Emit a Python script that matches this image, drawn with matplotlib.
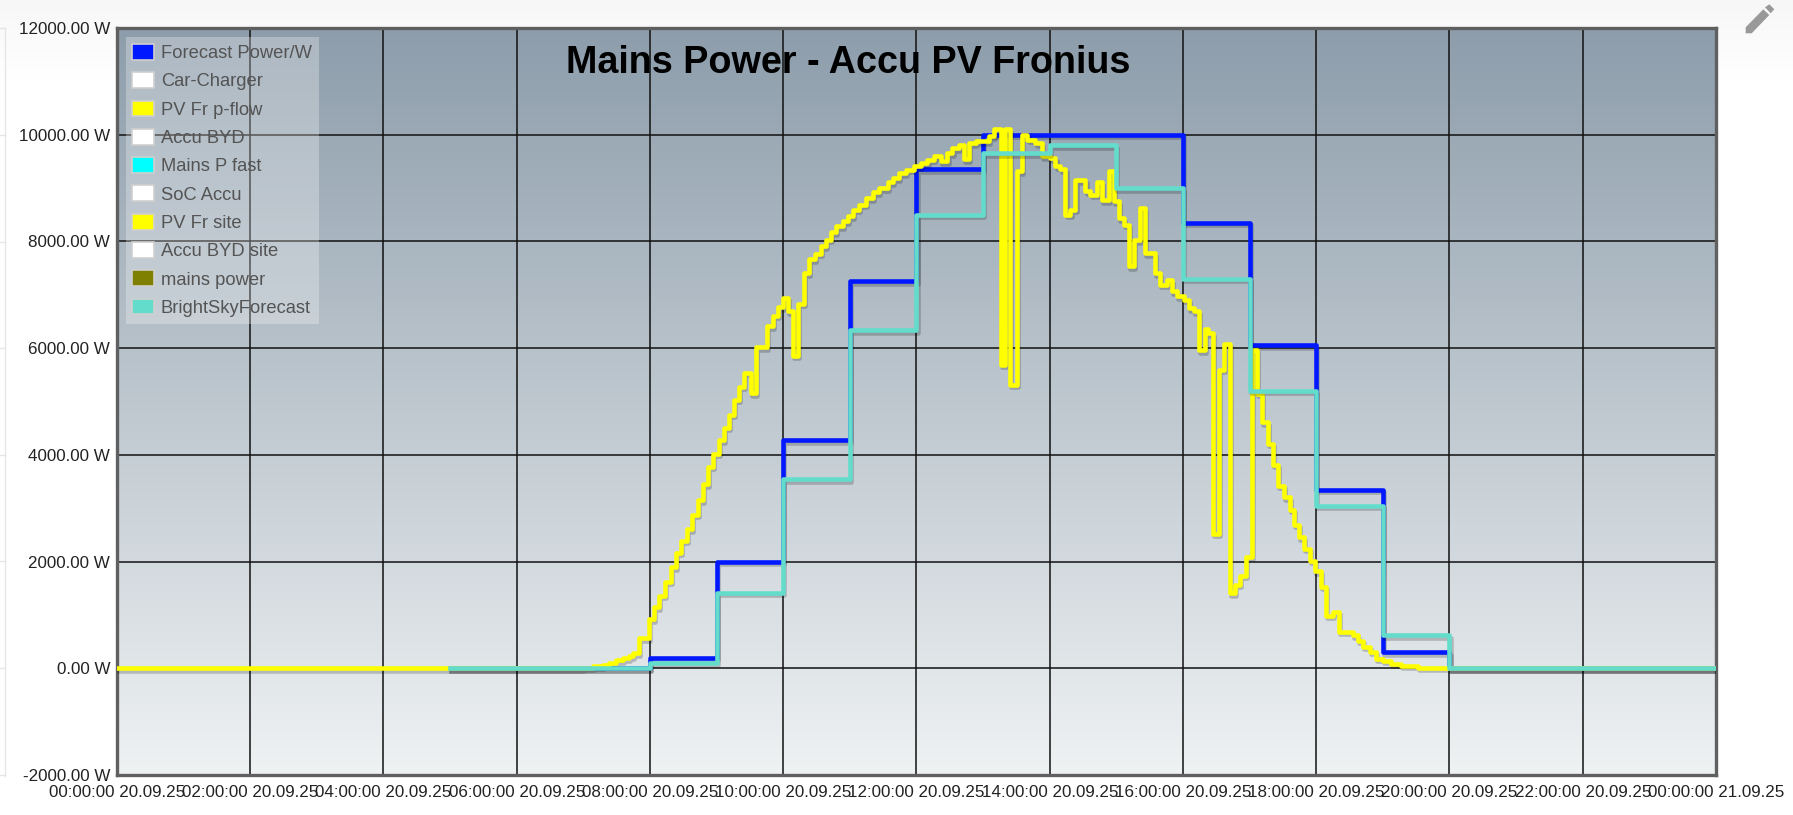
#!/usr/bin/env python3
import numpy as np
import matplotlib
matplotlib.use('Agg')
import matplotlib.pyplot as plt
import matplotlib.patheffects as pe
from matplotlib.patches import Patch, Polygon

plt.rcParams['font.family'] = ['Liberation Sans', 'DejaVu Sans']

W = 1793
H = 815

# hourly forecasts, value holds until the next hour
forecast_hours = [5, 6, 7, 8, 9, 10, 11, 12, 13, 14, 15, 16, 17, 18, 19, 20, 21, 22, 23, 24]
forecast_power = [0, 0, 0, 200, 2000, 4270, 7250, 9350, 10000, 10000, 10000, 8350, 6050, 3350, 300, 0, 0, 0, 0, 0]
brightsky = [0, 0, 0, 100, 1420, 3540, 6340, 8500, 9650, 9800, 9000, 7300, 5200, 3050, 620, 0, 0, 0, 0, 0]

# PV power
pv_hours = [0, 6.99, 7.14, 7.29, 7.39, 7.49, 7.59, 7.69, 7.75, 7.83, 7.99, 8.065, 8.14, 8.22, 8.315,
            8.39, 8.465, 8.55, 8.63, 8.715, 8.79, 8.865, 8.95, 9.03, 9.115, 9.19, 9.265, 9.34, 9.415,
            9.515, 9.59, 9.75, 9.84, 9.915, 9.99, 10.065, 10.14, 10.225, 10.315, 10.39, 10.48, 10.565,
            10.64, 10.715, 10.79, 10.89, 10.965, 11.04, 11.14, 11.24, 11.34, 11.44, 11.565, 11.64,
            11.74, 11.84, 11.965, 12.065, 12.165, 12.265, 12.365, 12.465, 12.54, 12.64, 12.715, 12.79,
            12.89, 12.99, 13.09, 13.165, 13.265, 13.335, 13.405, 13.505, 13.58, 13.665, 13.785, 13.885,
            14.01, 14.085, 14.16, 14.235, 14.31, 14.385, 14.535, 14.61, 14.71, 14.785, 14.885, 14.96,
            15.035, 15.11, 15.185, 15.26, 15.36, 15.435, 15.585, 15.66, 15.76, 15.835, 15.91, 16.01,
            16.085, 16.16, 16.235, 16.335, 16.38, 16.45, 16.54, 16.61, 16.70, 16.78, 16.86, 16.945,
            17.03, 17.105, 17.19, 17.27, 17.35, 17.43, 17.52, 17.6, 17.67, 17.74, 17.82, 17.9, 17.985,
            18.07, 18.145, 18.25, 18.335, 18.55, 18.625, 18.7, 18.8, 18.9, 19.0, 19.125, 19.275,
            19.525, 19.975, 24]
pv_power = [0, 12, 40, 62, 106, 150, 190, 230, 280, 560, 920, 1140, 1356, 1620, 1890,
            2170, 2390, 2606, 2875, 3150, 3450, 3775, 4025, 4275, 4510, 4750, 5030, 5280, 5540,
            5150, 6019, 6406, 6606, 6769, 6940, 6690, 5856, 6831, 7406, 7669, 7769, 7906,
            8031, 8169, 8281, 8375, 8469, 8594, 8688, 8813, 8919, 9000, 9106, 9188,
            9281, 9344, 9406, 9469, 9531, 9594, 9500, 9656, 9750, 9813, 9544, 9844,
            9875, 9875, 9969, 10106, 5688, 10106, 5313, 9313, 10000, 9906, 9844, 9594,
            9563, 9406, 9356, 8500, 8594, 9144, 8938, 8875, 9106, 8769, 9313, 8750,
            8438, 8313, 7531, 8019, 8625, 7781, 7406, 7188, 7269, 7063, 6969, 6906,
            6750, 6688, 5956, 6356, 6281, 2519, 5594, 6081, 1406, 1569, 1738, 2094,
            5969, 5144, 4613, 4206, 3819, 3425, 3206, 2969, 2694, 2456, 2238, 2019, 1819,
            1531, 988, 1056, 681, 619, 512, 400, 306, 181, 138, 88, 44,
            6, 0, 0]

tick_hours = list(range(0, 25, 2))
tick_labels = ['00:00:00 20.09.25', '02:00:00 20.09.25', '04:00:00 20.09.25', '06:00:00 20.09.25',
               '08:00:00 20.09.25', '10:00:00 20.09.25', '12:00:00 20.09.25', '14:00:00 20.09.25',
               '16:00:00 20.09.25', '18:00:00 20.09.25', '20:00:00 20.09.25', '22:00:00 20.09.25',
               '00:00:00 21.09.25']
y_ticks = [-2000, 0, 2000, 4000, 6000, 8000, 10000, 12000]

legend_names = ['Forecast Power/W', 'Car-Charger', 'PV Fr p-flow', 'Accu BYD', 'Mains P fast',
                'SoC Accu', 'PV Fr site', 'Accu BYD site', 'mains power', 'BrightSkyForecast']
legend_colors = ['#0018ff', '#ffffff', '#ffff00', '#ffffff', '#00ffff',
                 '#ffffff', '#ffff00', '#ffffff', '#808000', '#64dccc']

fig = plt.figure(figsize=(W / 100, H / 100), dpi=100, facecolor='white')

# page behind the chart, in pixels
page = fig.add_axes([0, 0, 1, 1], zorder=-1)
page.set_xlim(0, W)
page.set_ylim(H, 0)
page.axis('off')
shade = np.linspace(0.965, 1.0, 90).reshape(-1, 1)
page.imshow(shade, extent=(0, W, 90, 0), cmap='gray', vmin=0, vmax=1, aspect='auto')
page.set_xlim(0, W)
page.set_ylim(H, 0)
page.plot([5, 5], [29, 776], color='#e6e6e6', lw=1)
for py in [28, 135, 242, 348, 455, 561, 668, 775]:
    page.plot([0, 5], [py, py], color='#e6e6e6', lw=1)

# pencil icon
page.add_patch(Polygon([(1745.7, 33.3), (1745.7, 27.3), (1763.3, 9.3), (1769.3, 15), (1751.7, 33.3)],
                       color='#999999', lw=0))
page.add_patch(Polygon([(1765, 7.3), (1769.3, 4.3), (1774.3, 9.3), (1770.7, 13.3)],
                       color='#999999', lw=0))

ax = fig.add_axes([117 / W, 1 - 775 / H, (1716 - 117) / W, (775 - 28) / H])
ax.set_xlim(0, 24)
ax.set_ylim(-2000, 12000)

# background gradient
top = np.array([141, 157, 171]) / 255
bottom = np.array([239, 242, 243]) / 255
t = np.linspace(0, 1, 256)[:, None, None]
ax.imshow(top + (bottom - top) * t, extent=(0, 24, -2000, 12000), aspect='auto', zorder=0)

ax.set_xticks(tick_hours)
ax.set_xticklabels(tick_labels)
ax.set_yticks(y_ticks)
ax.set_yticklabels([f'{v:.2f} W' for v in y_ticks])
ax.tick_params(length=0, labelsize=12.25, labelcolor='#222222', pad=5)
ax.tick_params(axis='x', pad=7)
ax.grid(color='#111111', linewidth=1.1, zorder=1)
ax.set_axisbelow(True)

for side in ax.spines.values():
    side.set_color('#606060')
    side.set_linewidth(2.4)

shadow = [pe.SimpleLineShadow(offset=(0.8, -1.8), shadow_color='black', alpha=0.2), pe.Normal()]
common = dict(drawstyle='steps-post', linewidth=3.3, solid_joinstyle='round', path_effects=shadow)
ax.plot(forecast_hours, forecast_power, color='#0018ff', zorder=3, **common)
ax.plot(pv_hours, pv_power, color='#ffff00', zorder=4, **common)
ax.plot(forecast_hours, brightsky, color='#64dccc', zorder=5, **common)

handles = [Patch(facecolor=c, edgecolor='#cfcfcf', linewidth=1.2) for c in legend_colors]
leg = ax.legend(handles, legend_names, loc='upper left', bbox_to_anchor=(8.5 / 1599, 1 - 9 / 747),
                fontsize=13.2, labelcolor='#545454', facecolor='white', edgecolor='none',
                framealpha=0.28, fancybox=False, borderaxespad=0, borderpad=0.38,
                handlelength=1.2, handleheight=0.95, handletextpad=0.34, labelspacing=0.55)
leg.set_zorder(6)

fig.text(848 / W, 1 - 63 / H, 'Mains Power - Accu PV Fronius', fontsize=27.2, fontweight='bold',
         color='black', ha='center', va='center', zorder=10)

fig.savefig('out.png', dpi=100)
